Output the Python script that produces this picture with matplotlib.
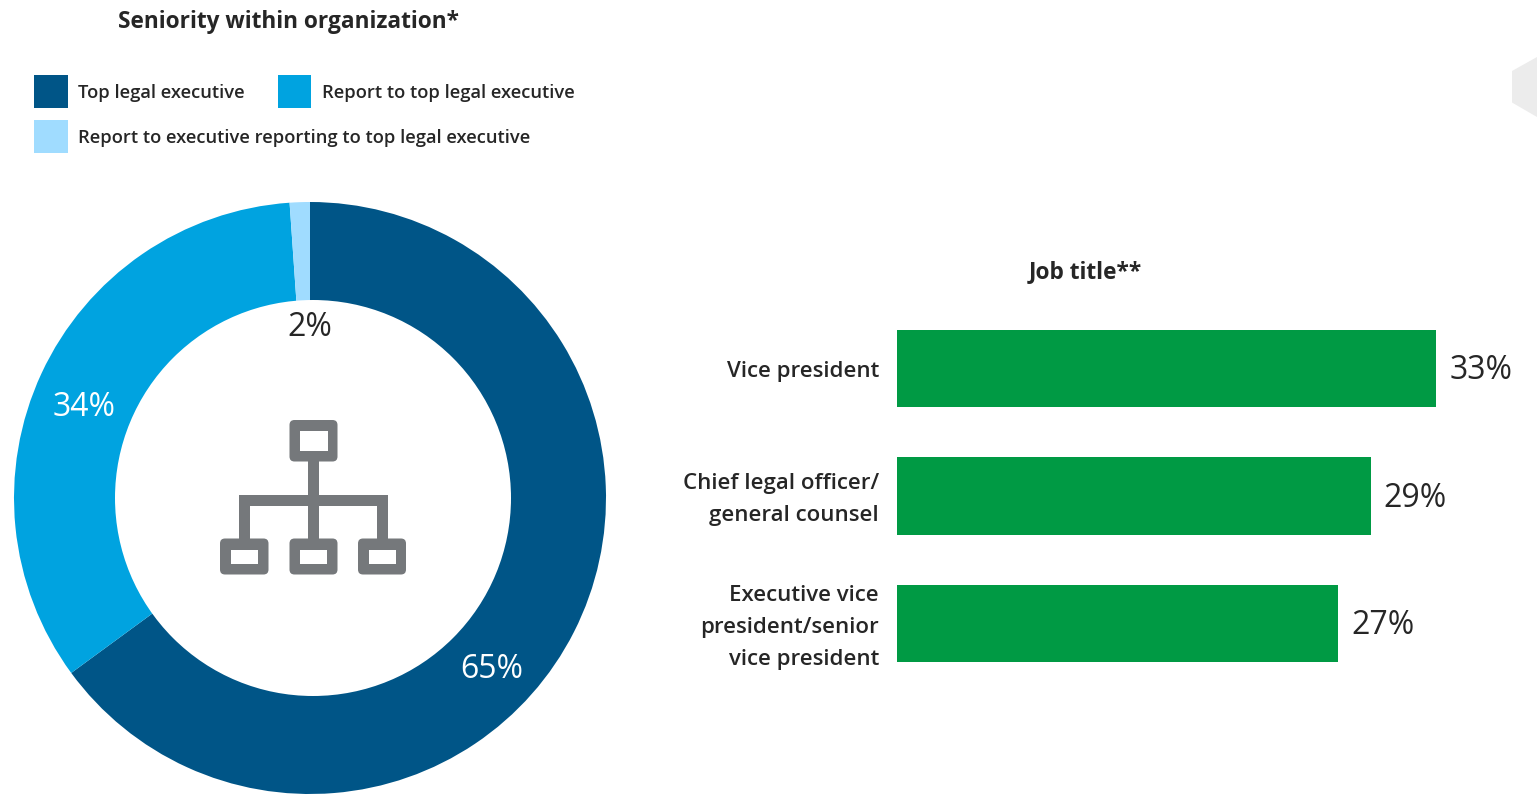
"""Seniority donut and job title bars."""

import matplotlib

matplotlib.use("Agg")

import matplotlib.pyplot as plt
from matplotlib.patches import Circle, FancyBboxPatch, Polygon, Rectangle
from matplotlib.transforms import ScaledTranslation

plt.rcParams["font.family"] = ["Open Sans", "DejaVu Sans"]

W, H = 1537, 799

seniority_names = [
    "Top legal executive",
    "Report to top legal executive",
    "Report to executive reporting to top legal executive",
]
seniority_share = [65, 34, 1.1]  # arc as drawn, the printed labels add up to 101
seniority_labels = ["65%", "34%", "2%"]
seniority_colours = ["#005587", "#00A3E0", "#A0DCFF"]

job_titles = [
    "Vice president",
    "Chief legal officer/\ngeneral counsel",
    "Executive vice\npresident/senior\nvice president",
]
job_share = [33, 29, 27]

INK = "#262626"
GREEN = "#009A44"
ICON = "#75787B"


def px_axes(fig, left, top, right, bottom):
    """Axes placed by pixel edges, y measured from the top of the image."""
    return fig.add_axes([left / W, 1 - bottom / H, (right - left) / W, (bottom - top) / H])


def icon_box(ax, x0, y0, x1, y1, wall):
    ax.add_patch(FancyBboxPatch((x0 + 4, y0 + 4), x1 - x0 - 8, y1 - y0 - 8,
                                boxstyle="round,pad=4,rounding_size=5", fc=ICON, ec="none", zorder=3))
    ax.add_patch(Rectangle((x0 + wall, y0 + wall + 0.5), x1 - x0 - 2 * wall, y1 - y0 - 2 * wall - 1,
                           fc="white", ec="none", zorder=4))


fig = plt.figure(figsize=(W / 100, H / 100), dpi=100, facecolor="white")

# ── Donut ────────────────────────────────────────────────────────────
ax_pie = px_axes(fig, 14, 202, 606, 794)
ax_pie.pie(seniority_share, colors=seniority_colours, startangle=90, counterclock=False,
           radius=1, wedgeprops={"width": 0.5, "linewidth": 0})
ax_pie.set_xlim(-1, 1)
ax_pie.set_ylim(-1, 1)

# ── Overlay in image pixels: hole, icon, legend, titles ──────────────
ov = fig.add_axes([0, 0, 1, 1], zorder=2)
ov.set_xlim(0, W)
ov.set_ylim(H, 0)
ov.axis("off")
ov.patch.set_alpha(0)

ov.add_patch(Circle((313, 498), 198, fc="white", ec="none", zorder=2))

ov.text(492, 670, seniority_labels[0], color="white", fontsize=23, ha="center", va="center", zorder=5)
ov.text(84, 408, seniority_labels[1], color="white", fontsize=23, ha="center", va="center", zorder=5)
ov.text(310, 328, seniority_labels[2], color=INK, fontsize=23, ha="center", va="center", zorder=5)

# org chart icon
for x0, y0, x1, y1 in [(307.5, 460, 318.5, 540), (239, 494.5, 387.5, 505.5), (239, 495, 250, 540), (376.5, 495, 387.5, 540)]:
    ov.add_patch(Rectangle((x0, y0), x1 - x0, y1 - y0, fc=ICON, ec="none", zorder=3))
icon_box(ov, 289.5, 420, 337.5, 461.5, 10)
for x0, x1 in [(220, 268.5), (289.5, 337.5), (358, 406)]:
    icon_box(ov, x0, 538.5, x1, 574.5, 10.5)

# legend
ov.text(289, 22, "Seniority within organization*", color=INK, fontsize=16.3, fontweight="bold",
        ha="center", va="center")
for (sx, sy, tx), name, colour in zip([(34, 75, 78), (277.5, 75, 322), (34, 120, 78)], seniority_names, seniority_colours):
    ov.add_patch(Rectangle((sx, sy), 33.5, 33, fc=colour, ec="none"))
    ov.text(tx, sy + 18, name, color=INK, fontsize=13.27, fontweight="semibold", ha="left", va="center")

ov.text(1085, 272, "Job title**", color=INK, fontsize=16.3, fontweight="bold", ha="center", va="center")

# corner hexagon
ov.add_patch(Polygon([(1512, 71), (1537, 57), (1537, 117), (1512, 102.5)], fc="#ECECEC", ec="none"))

# ── Job title bars ───────────────────────────────────────────────────
ax_bar = px_axes(fig, 897, 304.75, 1537, 687.25)
rows = range(len(job_titles))
ax_bar.barh(rows, job_share, height=0.604, color=GREEN)
ax_bar.set_xlim(0, 640 / 16.33)
ax_bar.set_ylim(2.5, -0.5)
ax_bar.set_xticks([])
ax_bar.set_yticks(list(rows))
ax_bar.set_yticklabels(job_titles, fontsize=16, fontweight="semibold", color=INK,
                       linespacing=1.67, multialignment="right")
ax_bar.tick_params(axis="y", length=0, pad=13)
# wrapped labels sit a few pixels higher than the one-line label
for label, lift in zip(ax_bar.get_yticklabels(), [-1, 4, 4]):
    nudge = ScaledTranslation(0, lift / 100, fig.dpi_scale_trans)
    label.set_transform(label.get_transform() + nudge)
for spine in ax_bar.spines.values():
    spine.set_visible(False)
ax_bar.patch.set_alpha(0)
for row, share in zip(rows, job_share):
    ax_bar.annotate(f"{share}%", (share, row), xytext=(9.5, -1.5), textcoords="offset points",
                    fontsize=23, color=INK, ha="left", va="center")

fig.savefig("out.png", dpi=100)
plt.close(fig)
